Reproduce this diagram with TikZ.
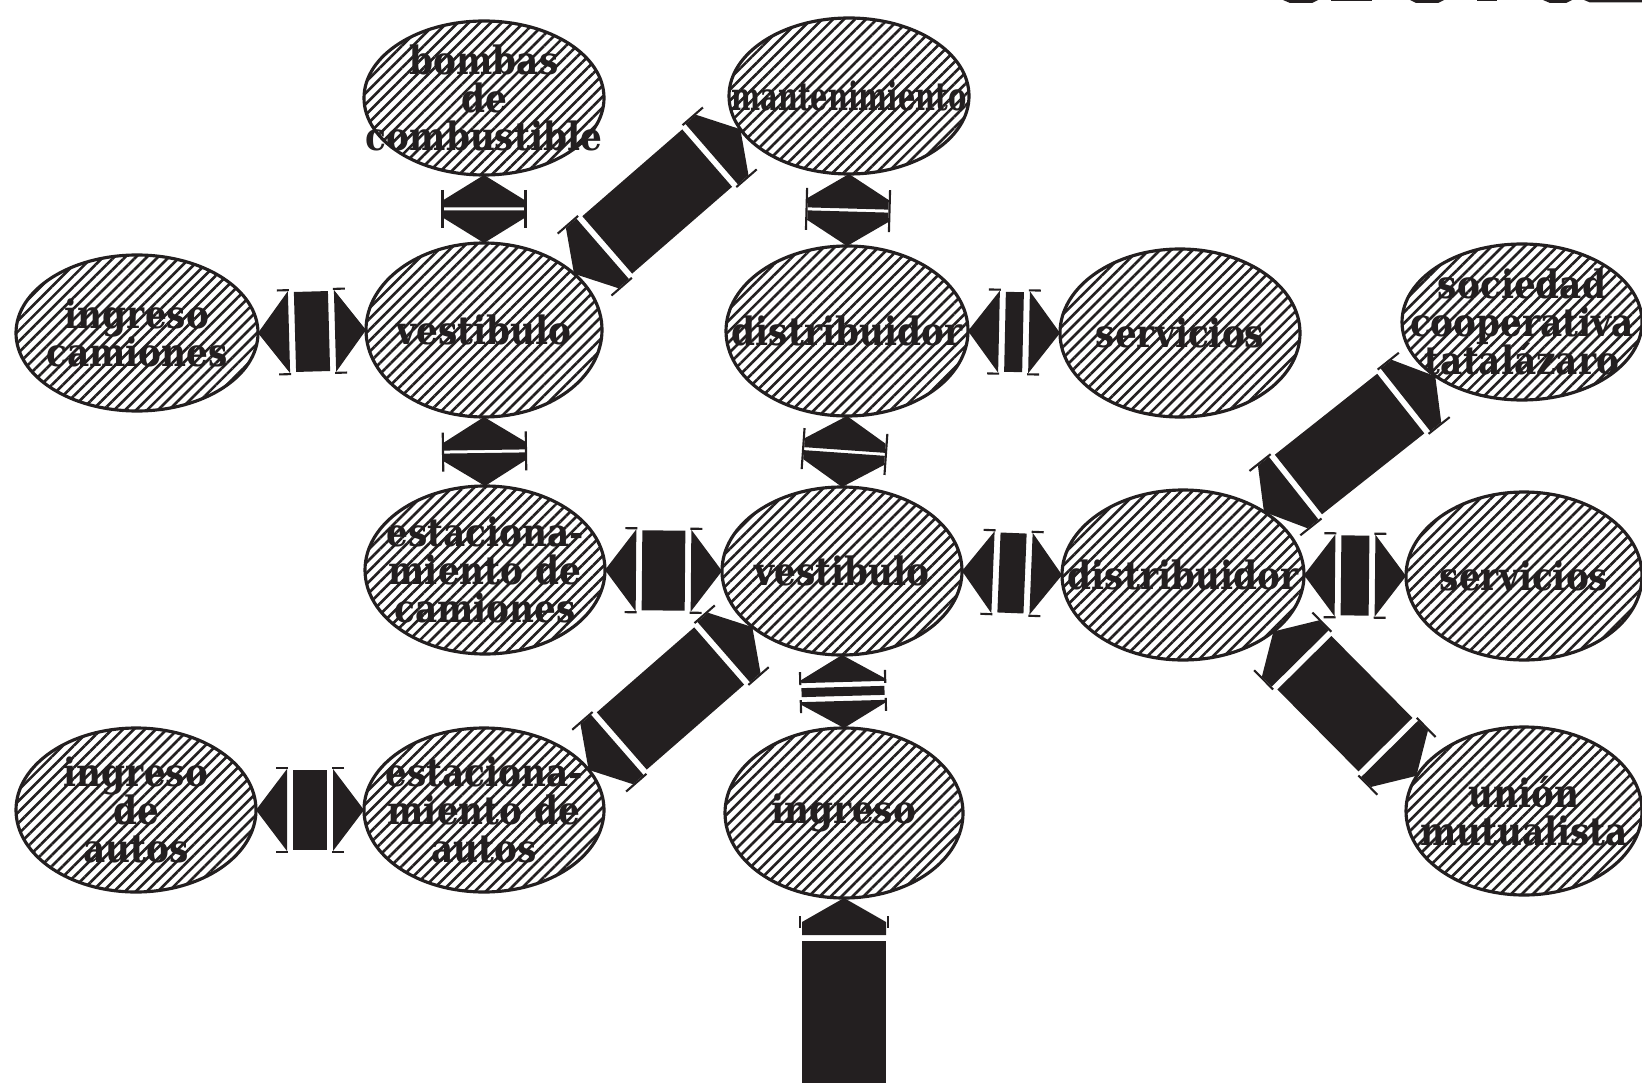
\documentclass[tikz,border=0pt]{standalone}
\usepackage{fontspec}
\newfontfamily\handfont{DejaVu Serif}[FakeStretch=0.88]
\usetikzlibrary{shapes.geometric,patterns.meta,calc}
\definecolor{ink}{HTML}{231F20}
\pgfdeclarelayer{links}
\pgfsetlayers{links,main}

\tikzset{
  room/.style 2 args={ellipse, draw=ink, line width=0.9pt, inner sep=0pt, outer sep=0pt,
    minimum width=#1*0.2mm, minimum height=#2*0.2mm,
    preaction={fill=white},
    pattern={Lines[angle=45,distance=2.2pt,line width=0.75pt]}, pattern color=ink},
  word/.style={font={\handfont\bfseries\fontsize{11.1}{10.7}\selectfont},
    align=center, text=ink, inner sep=0pt},
  tickline/.style={draw=ink, line width=0.6pt},
}

% frame of a connector: angle and length (in 0.1mm units) from lkA to lkB
\makeatletter
\newcommand\lkframe[2]{%
  \pgfmathanglebetweenpoints{\pgfpointanchor{#1}{center}}{\pgfpointanchor{#2}{center}}%
  \xdef\lkang{\pgfmathresult}%
  \pgfpointdiff{\pgfpointanchor{#1}{center}}{\pgfpointanchor{#2}{center}}%
  \edef\lkdx{\the\pgf@x}\edef\lkdy{\the\pgf@y}%
  \pgfmathparse{veclen(\lkdx,\lkdy)/0.284528}%
  \xdef\lklen{\pgfmathresult}%
}
\makeatother

% two triangular heads and a block between them
\newcommand\widelink[2]{%
  \path (#1) coordinate (lkA) (#2) coordinate (lkB);
  \lkframe{lkA}{lkB}%
  \begin{scope}[shift={(lkA)},rotate=\lkang,x=0.1mm,y=0.1mm]
    \fill[ink] (0,0) -- (31,41) -- (31,-41) -- cycle;
    \fill[ink] (\lklen,0) -- (\lklen-31,41) -- (\lklen-31,-41) -- cycle;
    \fill[ink] (37,-40) rectangle (\lklen-37,40);
    \draw[tickline] (20,42) -- (32,42) (20,-42) -- (32,-42)
      (\lklen-20,42) -- (\lklen-32,42) (\lklen-20,-42) -- (\lklen-32,-42);
  \end{scope}}

% two pointed heads and a long block between them
\newcommand\diaglink[2]{%
  \path (#1) coordinate (lkA) (#2) coordinate (lkB);
  \lkframe{lkA}{lkB}%
  \begin{scope}[shift={(lkA)},rotate=\lkang,x=0.1mm,y=0.1mm]
    \fill[ink] (0,0) -- (24,40) -- (38,40) -- (38,-40) -- (24,-40) -- cycle;
    \fill[ink] (\lklen,0) -- (\lklen-24,40) -- (\lklen-38,40) -- (\lklen-38,-40)
      -- (\lklen-24,-40) -- cycle;
    \fill[ink] (44,-38) rectangle (\lklen-44,38);
    \draw[tickline] (14,41) -- (41,41) (14,-41) -- (41,-41)
      (\lklen-14,41) -- (\lklen-41,41) (\lklen-14,-41) -- (\lklen-41,-41);
  \end{scope}}

% two pointed heads meeting back to back
\newcommand\pairlink[2]{%
  \path (#1) coordinate (lkA) (#2) coordinate (lkB);
  \lkframe{lkA}{lkB}%
  \pgfmathsetmacro\lkh{(\lklen-3)/2}%
  \begin{scope}[shift={(lkA)},rotate=\lkang,x=0.1mm,y=0.1mm]
    \fill[ink] (0,0) -- (25,40.5) -- (\lkh,40.5) -- (\lkh,-40.5) -- (25,-40.5) -- cycle;
    \fill[ink] (\lklen,0) -- (\lklen-25,40.5) -- (\lklen-\lkh,40.5)
      -- (\lklen-\lkh,-40.5) -- (\lklen-25,-40.5) -- cycle;
    \draw[tickline] (15,41.5) -- (\lklen-15,41.5) (15,-41.5) -- (\lklen-15,-41.5);
  \end{scope}}

% two pointed heads with a thin bar between them
\newcommand\triplink[2]{%
  \path (#1) coordinate (lkA) (#2) coordinate (lkB);
  \lkframe{lkA}{lkB}%
  \pgfmathsetmacro\lkh{(\lklen-19)/2}%
  \begin{scope}[shift={(lkA)},rotate=\lkang,x=0.1mm,y=0.1mm]
    \fill[ink] (0,0) -- (24,41.5) -- (\lkh,41.5) -- (\lkh,-41.5) -- (24,-41.5) -- cycle;
    \fill[ink] (\lklen,0) -- (\lklen-24,41.5) -- (\lklen-\lkh,41.5)
      -- (\lklen-\lkh,-41.5) -- (\lklen-24,-41.5) -- cycle;
    \fill[ink] (\lkh+5,-41.5) rectangle (\lklen-\lkh-5,41.5);
    \draw[tickline] (16,42.5) -- (\lkh+2,42.5) (16,-42.5) -- (\lkh+2,-42.5)
      (\lklen-16,42.5) -- (\lklen-\lkh-2,42.5) (\lklen-16,-42.5) -- (\lklen-\lkh-2,-42.5);
  \end{scope}}

% one pointed head and a block running off
\newcommand\entrylink[2]{%
  \path (#1) coordinate (lkA) (#2) coordinate (lkB);
  \lkframe{lkA}{lkB}%
  \begin{scope}[shift={(lkA)},rotate=\lkang,x=0.1mm,y=0.1mm]
    \fill[ink] (0,0) -- (24,42) -- (37,42) -- (37,-42) -- (24,-42) -- cycle;
    \fill[ink] (43,-42) rectangle (\lklen,42);
    \draw[tickline] (18,44) -- (30,44) (18,-44) -- (30,-44);
  \end{scope}}

\begin{document}
% tight leading for the stacked room names
\lineskiplimit=-20pt\relax
\lineskip=0pt\relax
\begin{tikzpicture}[x=0.1mm,y=-0.1mm]
\useasboundingbox (0,0) rectangle (1642,1082);

% rooms
\node[room={120}{77}] (bo) at (484,98) {};
\node[room={120}{78}] (ma) at (849,96) {};
\node[room={121}{78}] (ic) at (137,333) {};
\node[room={118}{87}] (v1) at (484,330) {};
\node[room={121}{85}] (d1) at (847,331) {};
\node[room={120}{84}] (s1) at (1180,333) {};
\node[room={120}{78}] (so) at (1522,322) {};
\node[room={120}{84}] (ec) at (485,570) {};
\node[room={120}{84}] (v2) at (842,571) {};
\node[room={121}{85}] (d2) at (1183,575) {};
\node[room={118}{84}] (s2) at (1524,576) {};
\node[room={120}{82}] (ia) at (136,810) {};
\node[room={120}{82}] (ea) at (484,810) {};
\node[room={119}{85}] (in) at (844,813) {};
\node[room={118}{84}] (un) at (1524,811) {};

% names of the rooms
\node[word] (bo-t) at (bo) {bombas\\de\\combustible};
\node[word] (ma-t) at (ma) {\scalebox{0.8}[1]{mantenimiento}};
\node[word] (ic-t) at (ic) {ingreso\\camiones};
\node[word] (v1-t) at (v1) {vestibulo};
\node[word] (d1-t) at (d1) {distribuidor};
\node[word] (s1-t) at (s1) {servicios};
\node[word] (so-t) at (so) {sociedad\\cooperativa\\tatalázaro};
\node[word] (ec-t) at (ec) {estaciona-\\miento de\\camiones};
\node[word] (v2-t) at (v2) {vestibulo};
\node[word] (d2-t) at (d2) {distribuidor};
\node[word] (s2-t) at (s2) {servicios};
\node[word] (ia-t) at (ia) {ingreso\\de\\autos};
\node[word] (ea-t) at (ea) {estaciona-\\miento de\\autos};
\node[word] (in-t) at (in) {ingreso};
\node[word] (un-t) at (un) {unión\\mutualista};

% lower edges of lettering cut off by the top border
\fill[ink] (1283,0) -- (1318,0) -- (1312,3) -- (1290,3) -- cycle;
\fill[ink] (1331,0) rectangle (1372,1.5);
\fill[ink] (1410,0) -- (1444,0) -- (1438,3) -- (1416,3) -- cycle;
\fill[ink] (1477,0) rectangle (1497,1.5);
\fill[ink] (1543,0) -- (1572,0) -- (1566,3) -- (1550,3) -- cycle;
\fill[ink] (1584,0) -- (1642,0) -- (1642,2.5) -- (1590,2.5) -- cycle;

\coordinate (street) at (in.south |- 0,1110);

% connections, drawn beneath the rooms
\begin{pgfonlayer}{links}
  \widelink{ic.east}{v1.west}
  \widelink{d1.east}{s1.west}
  \widelink{ec.east}{v2.west}
  \widelink{v2.east}{d2.west}
  \widelink{d2.east}{s2.west}
  \widelink{ia.east}{ea.west}
  \pairlink{bo.south}{v1.north}
  \pairlink{v1.south}{ec.north}
  \pairlink{ma.south}{d1.north}
  \pairlink{d1.south}{v2.north}
  \triplink{v2.south}{in.north}
  \diaglink{v1.32}{ma.197}
  \diaglink{ea.21}{v2.212}
  \diaglink{d2.38}{so.212}
  \diaglink{d2.328}{un.162}
  \entrylink{in.south}{street}
\end{pgfonlayer}
\end{tikzpicture}
\end{document}
